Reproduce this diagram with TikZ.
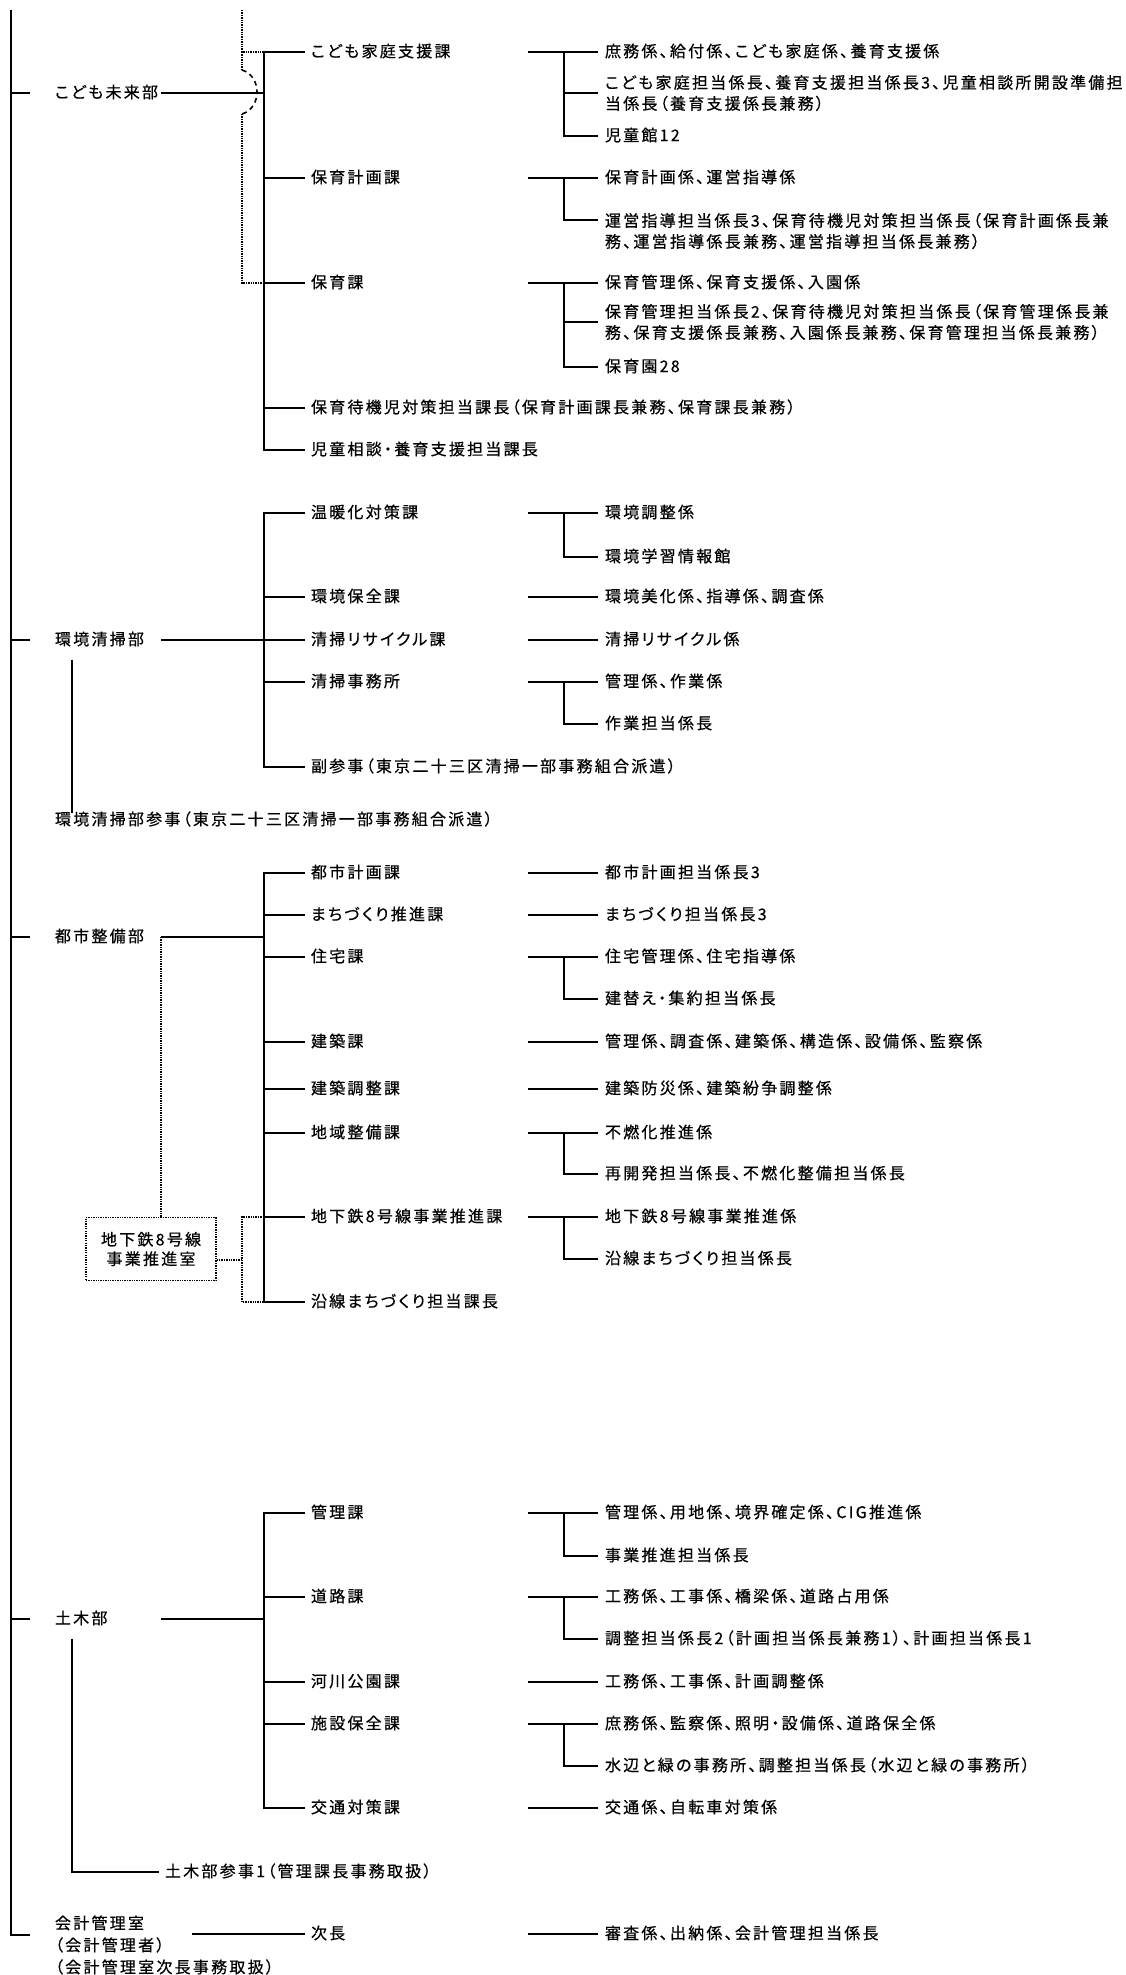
\documentclass[tikz,border=0pt]{standalone}
\usepackage{fontspec}
\setmainfont{Noto Sans CJK JP}[RawFeature=+palt, LetterSpace=14, FakeBold=0.6]
\usepackage{tikz}
\usetikzlibrary{calc}
\tikzset{org font/.style={font=\fontsize{12}{15.75}\selectfont}}
\tikzset{conn/.style={line width=1.5pt}}
\tikzset{dotconn/.style={line width=1pt, dash pattern=on 1pt off 0.8pt}}
\tikzset{jump/.style={line width=1.2pt, dash pattern=on 3.5pt off 3pt}}
\tikzset{org text/.style={inner sep=0pt, outer sep=0pt, anchor=west}}
\tikzset{one line/.style={text height=0.88em, text depth=0.12em}}
\tikzset{bu/.style={org text, one line, inner ysep=9.75pt}}
\tikzset{ka/.style={org text, one line, inner xsep=4.5pt}}
\tikzset{kakari/.style={org text, one line, inner xsep=5.25pt}}
\tikzset{kakari2/.style={org text, align=left, inner xsep=5.25pt}}
\tikzset{box8/.style={draw, dotconn, minimum width=97.5pt, minimum height=47.25pt, inner sep=0pt, align=center, font=\fontsize{12}{14.6}\selectfont}}

\begin{document}
\begin{tikzpicture}[x=0.75pt, y=-0.75pt, org font]
    \useasboundingbox (0,0) rectangle (1126,1975);

    \coordinate (L0) at (11,10);
    \coordinate (L1) at (11,1935);
    \coordinate (TK) at (30,0);
    \coordinate (SX) at (72,0);
    \coordinate (DL) at (161,0);
    \coordinate (A0) at (192,1934);
    \coordinate (DX) at (242,0);
    \coordinate (D0) at (242,10);
    \coordinate (J1) at (242,70);
    \coordinate (J2) at (242,114);
    \coordinate (KB) at (264,0);
    \coordinate (GL) at (528,0);
    \coordinate (GB) at (564,0);

    \node[bu] (B1) at (55,93) {こども未来部};
    \node[bu] (B2) at (55,640) {環境清掃部};
    \node[bu] (B3) at (55,937) {都市整備部};
    \node[bu] (B4) at (55,1619) {土木部};
    \node[org text, align=left, font=\fontsize{12}{16.5}\selectfont] (B5) at (55,1945) {会計管理室\\（会計管理者）\\（会計管理室次長事務取扱）};

    \node[org text, one line] (N1) at (55,820) {環境清掃部参事（東京二十三区清掃一部事務組合派遣）};
    \node[ka] (N2) at (159,1872) {土木部参事1（管理課長事務取扱）};
    \node[box8] (M1) at (151,1249) {地下鉄8号線\\事業推進室};

    \node[ka] (K1) at (305,52) {こども家庭支援課};
    \node[ka] (K2) at (305,178) {保育計画課};
    \node[ka] (K3) at (305,283) {保育課};
    \node[ka] (K4) at (305,408) {保育待機児対策担当課長（保育計画課長兼務、保育課長兼務）};
    \node[ka] (K5) at (305,450) {児童相談・養育支援担当課長};
    \node[ka] (K6) at (305,513) {温暖化対策課};
    \node[ka] (K7) at (305,597) {環境保全課};
    \node[ka] (K8) at (305,640) {清掃リサイクル課};
    \node[ka] (K9) at (305,682) {清掃事務所};
    \node[ka] (K10) at (305,767) {副参事（東京二十三区清掃一部事務組合派遣）};
    \node[ka] (K11) at (305,873) {都市計画課};
    \node[ka] (K12) at (305,915) {まちづくり推進課};
    \node[ka] (K13) at (305,957) {住宅課};
    \node[ka] (K14) at (305,1042) {建築課};
    \node[ka] (K15) at (305,1089) {建築調整課};
    \node[ka] (K16) at (305,1133) {地域整備課};
    \node[ka] (K17) at (305,1217) {地下鉄8号線事業推進課};
    \node[ka] (K18) at (305,1302) {沿線まちづくり担当課長};
    \node[ka] (K19) at (305,1513) {管理課};
    \node[ka] (K20) at (305,1597) {道路課};
    \node[ka] (K21) at (305,1682) {河川公園課};
    \node[ka] (K22) at (305,1724) {施設保全課};
    \node[ka] (K23) at (305,1808) {交通対策課};
    \node[ka] (K24) at (305,1934) {次長};

    \node[kakari] (G1) at (598,52) {庶務係、給付係、こども家庭係、養育支援係};
    \node[kakari2] (G2) at (598,93) {こども家庭担当係長、養育支援担当係長3、児童相談所開設準備担\\当係長（養育支援係長兼務）};
    \node[kakari] (G3) at (598,136) {児童館12};
    \node[kakari] (G4) at (598,178) {保育計画係、運営指導係};
    \node[kakari2] (G5) at (598,231) {運営指導担当係長3、保育待機児対策担当係長（保育計画係長兼\\務、運営指導係長兼務、運営指導担当係長兼務）};
    \node[kakari] (G6) at (598,283) {保育管理係、保育支援係、入園係};
    \node[kakari2] (G7) at (598,322) {保育管理担当係長2、保育待機児対策担当係長（保育管理係長兼\\務、保育支援係長兼務、入園係長兼務、保育管理担当係長兼務）};
    \node[kakari] (G8) at (598,367) {保育園28};
    \node[kakari] (G9) at (598,513) {環境調整係};
    \node[kakari] (G10) at (598,557) {環境学習情報館};
    \node[kakari] (G11) at (598,597) {環境美化係、指導係、調査係};
    \node[kakari] (G12) at (598,640) {清掃リサイクル係};
    \node[kakari] (G13) at (598,682) {管理係、作業係};
    \node[kakari] (G14) at (598,724) {作業担当係長};
    \node[kakari] (G15) at (598,873) {都市計画担当係長3};
    \node[kakari] (G16) at (598,915) {まちづくり担当係長3};
    \node[kakari] (G17) at (598,957) {住宅管理係、住宅指導係};
    \node[kakari] (G18) at (598,999) {建替え・集約担当係長};
    \node[kakari] (G19) at (598,1042) {管理係、調査係、建築係、構造係、設備係、監察係};
    \node[kakari] (G20) at (598,1089) {建築防災係、建築紛争調整係};
    \node[kakari] (G21) at (598,1133) {不燃化推進係};
    \node[kakari] (G22) at (598,1174) {再開発担当係長、不燃化整備担当係長};
    \node[kakari] (G23) at (598,1217) {地下鉄8号線事業推進係};
    \node[kakari] (G24) at (598,1259) {沿線まちづくり担当係長};
    \node[kakari] (G25) at (598,1513) {管理係、用地係、境界確定係、CIG推進係};
    \node[kakari] (G26) at (598,1556) {事業推進担当係長};
    \node[kakari] (G27) at (598,1597) {工務係、工事係、橋梁係、道路占用係};
    \node[kakari] (G28) at (598,1639) {調整担当係長2（計画担当係長兼務1）、計画担当係長1};
    \node[kakari] (G29) at (598,1682) {工務係、工事係、計画調整係};
    \node[kakari] (G30) at (598,1724) {庶務係、監察係、照明・設備係、道路保全係};
    \node[kakari] (G31) at (598,1766) {水辺と緑の事務所、調整担当係長（水辺と緑の事務所）};
    \node[kakari] (G32) at (598,1808) {交通係、自転車対策係};
    \node[kakari] (G33) at (598,1934) {審査係、出納係、会計管理担当係長};

    \draw[conn] (L0) |- (TK |- L1);
    \foreach \b in {B1,B2,B3,B4}
        \draw[conn] (\b.west -| L0) -- (\b.west -| TK);
    \foreach \b in {B1,B2,B3,B4}
        \draw[conn] (\b.west -| DL) -- (\b.west -| KB);

    \draw[conn] (K1.west) -| (KB |- K5.west) -- (K5.west);
    \draw[conn] (K6.west) -| (KB |- K10.west) -- (K10.west);
    \draw[conn] (K11.west) -| (KB |- K18.west) -- (K18.west);
    \draw[conn] (K19.west) -| (KB |- K23.west) -- (K23.west);
    \foreach \k in {K2,K3,K4,K7,K8,K9,K12,K13,K14,K15,K16,K17,K20,K21,K22}
        \draw[conn] (\k.west -| KB) -- (\k.west);

    \foreach \k/\g in {K1/G1,K2/G4,K3/G6,K6/G9,K7/G11,K8/G12,K9/G13,K11/G15,K12/G16,K13/G17,K14/G19,K15/G20,K16/G21,K17/G23,K19/G25,K20/G27,K21/G29,K22/G30,K23/G32,K24/G33}
        \draw[conn] (\k.west -| GL) -- (\g.west);
    \foreach \a/\b in {G1/G3,G6/G8,G9/G10,G13/G14,G17/G18,G21/G22,G23/G24,G25/G26,G27/G28,G30/G31}
        \draw[conn] (\a.west -| GB) |- (\b.west);
    \foreach \g in {G2,G7}
        \draw[conn] (\g.west -| GB) -- (\g.west);
    \draw[conn] (G4.west -| GB) |- ([yshift=8.25pt]G5.west);

    \draw[conn] (A0) -- (K24.west);
    \draw[conn] (B2.south -| SX) -- (N1.north -| SX);
    \draw[conn] (B4.south -| SX) |- (N2.west);

    \draw[dotconn] (D0) -- (K1.west -| DX) -- (K1.west -| KB);
    \draw[dotconn] (K1.west -| DX) -- (J1);
    \draw[jump] (J1) .. controls +(20,6) and +(20,-6) .. (J2);
    \draw[dotconn] (J2) -- (K3.west -| DX) -- (K3.west -| KB);

    \draw[dotconn] (B3.west -| DL) -- (M1.north -| DL);
    \draw[dotconn] ([yshift=-8.25pt]M1.east) -- ([yshift=-8.25pt]M1.east -| DX);
    \draw[dotconn] (K17.west -| KB) -| (DX |- K18.west) -- (K18.west -| KB);

\end{tikzpicture}
\end{document}
